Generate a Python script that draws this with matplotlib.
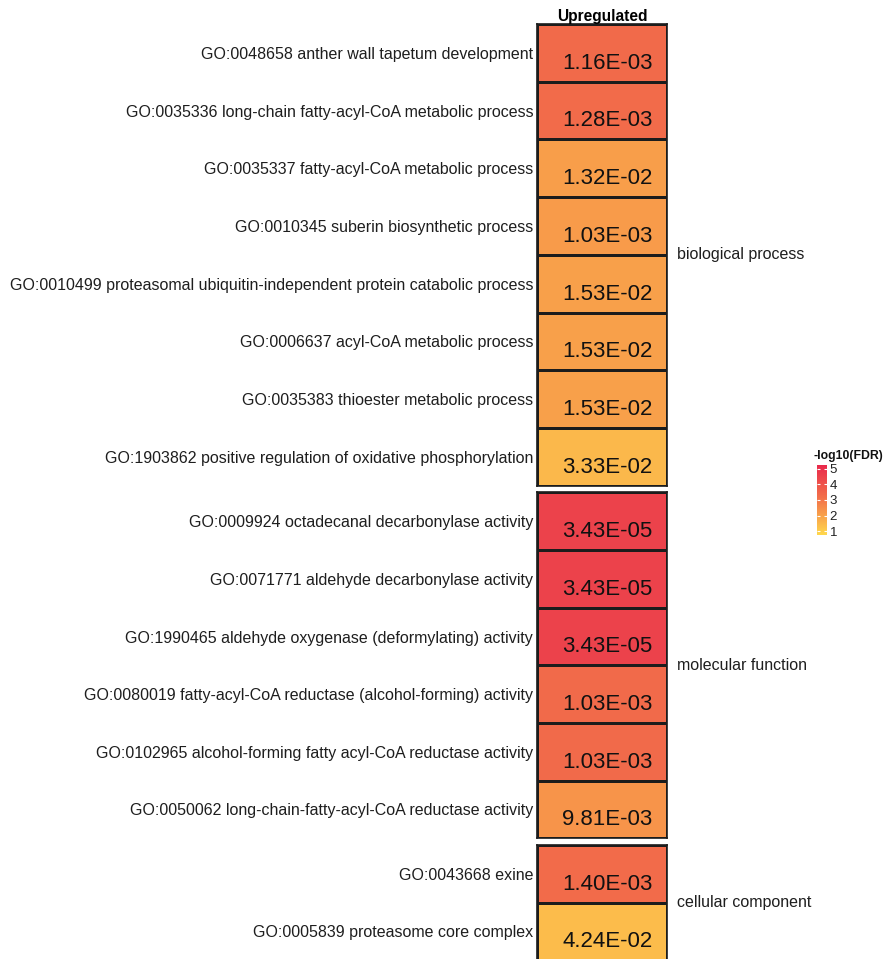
import numpy as np
import matplotlib
matplotlib.use('Agg')
import matplotlib.pyplot as plt
from matplotlib.colors import LinearSegmentedColormap, Normalize
from matplotlib.colorbar import ColorbarBase

plt.rcParams['font.family'] = ['Liberation Sans', 'DejaVu Sans']

# GO terms per category, top to bottom
bp_terms = [
    'GO:0048658 anther wall tapetum development',
    'GO:0035336 long-chain fatty-acyl-CoA metabolic process',
    'GO:0035337 fatty-acyl-CoA metabolic process',
    'GO:0010345 suberin biosynthetic process',
    'GO:0010499 proteasomal ubiquitin-independent protein catabolic process',
    'GO:0006637 acyl-CoA metabolic process',
    'GO:0035383 thioester metabolic process',
    'GO:1903862 positive regulation of oxidative phosphorylation',
]
mf_terms = [
    'GO:0009924 octadecanal decarbonylase activity',
    'GO:0071771 aldehyde decarbonylase activity',
    'GO:1990465 aldehyde oxygenase (deformylating) activity',
    'GO:0080019 fatty-acyl-CoA reductase (alcohol-forming) activity',
    'GO:0102965 alcohol-forming fatty acyl-CoA reductase activity',
    'GO:0050062 long-chain-fatty-acyl-CoA reductase activity',
]
cc_terms = [
    'GO:0043668 exine',
    'GO:0005839 proteasome core complex',
]

# printed p-values
bp_pvals = ['1.16E-03', '1.28E-03', '1.32E-02', '1.03E-03', '1.53E-02', '1.53E-02', '1.53E-02', '3.33E-02']
mf_pvals = ['3.43E-05', '3.43E-05', '3.43E-05', '1.03E-03', '1.03E-03', '9.81E-03']
cc_pvals = ['1.40E-03', '4.24E-02']

# -log10(FDR) used for the fill
bp_fdr = [3.35, 3.3, 2.1, 2.15, 2.05, 2.05, 2.05, 1.5]
mf_fdr = [4.5, 4.5, 4.5, 3.35, 3.35, 2.3]
cc_fdr = [3.3, 1.4]

categories = ['biological process', 'molecular function', 'cellular component']
column = 'Upregulated'

cmap = LinearSegmentedColormap.from_list('fdr', ['#FFD84B', '#F3764A', '#E9284B'])
norm = Normalize(vmin=0.75, vmax=5.25)

W, H = 884, 959
fig = plt.figure(figsize=(W / 100, H / 100), dpi=100)

# panel extents in pixels (top, bottom)
panels = [(24.0, 485.6), (492.4, 838.3), (845.0, 960.3)]
x0, x1 = 537.3, 667.3

groups = [
    (bp_terms, bp_pvals, bp_fdr),
    (mf_terms, mf_pvals, mf_fdr),
    (cc_terms, cc_pvals, cc_fdr),
]

for i, ((top, bot), (terms, pvals, fdr)) in enumerate(zip(panels, groups)):
    ax = fig.add_axes([x0 / W, 1 - bot / H, (x1 - x0) / W, (bot - top) / H])
    n = len(terms)
    vals = np.array(fdr).reshape(-1, 1)
    ax.pcolormesh(np.arange(2), np.arange(n + 1), vals, cmap=cmap, norm=norm,
                  edgecolors='#1c1c1c', linewidth=1.0)
    ax.set_xlim(0, 1)
    ax.set_ylim(n, 0)
    for j, p in enumerate(pvals):
        ax.text(0.54, j + 0.68, p, ha='center', va='center', fontsize=16, color='#111111')
    ax.set_yticks(np.arange(n) + 0.5)
    ax.set_yticklabels(terms, fontsize=11.5, color='#1e1e1e')
    ax.tick_params(axis='y', length=0, pad=3)
    ax.set_xticks([])
    for s in ax.spines.values():
        s.set_linewidth(1.2)
        s.set_color('#1c1c1c')
    ax.text(1.0 + 10 / (x1 - x0), 0.5, categories[i], transform=ax.transAxes,
            ha='left', va='center', fontsize=11.5, color='#1e1e1e')
    if i == 0:
        ax.set_title(column, fontsize=11.2, fontweight='bold', pad=1.5)

# colour legend
cax = fig.add_axes([816.7 / W, 1 - 535 / H, 10 / W, 70 / H])
cb = ColorbarBase(cax, cmap=cmap, norm=norm, ticks=[1, 2, 3, 4, 5])
cb.outline.set_visible(False)
cax.tick_params(axis='y', direction='in', length=2.5, width=0.8, color='white',
                left=True, right=True, labelsize=9.5, pad=2, labelcolor='#222222')
fig.text(813 / W, 1 - 456 / H, '-log10(FDR)', fontsize=8.8, fontweight='bold',
         ha='left', va='center', color='#111111')

fig.savefig('out.png', dpi=100)
